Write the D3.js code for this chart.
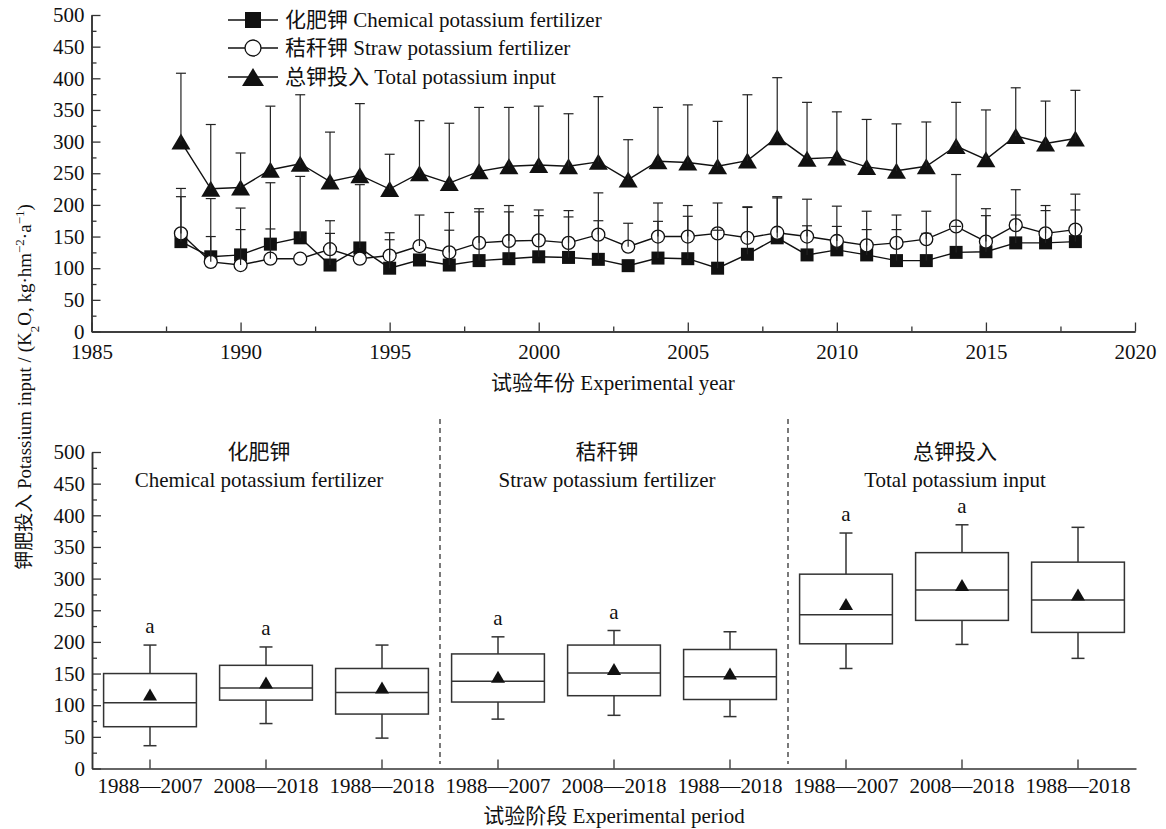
<!DOCTYPE html>
<html><head><meta charset="utf-8">
<script src="https://cdn.jsdelivr.net/npm/d3@7"></script>
<style>
body{margin:0;background:#fff;}
svg text{font-family:"Liberation Serif","Times New Roman","Noto Sans CJK SC",serif;fill:#111;}
</style></head>
<body><svg id="c" width="1166" height="829"></svg>
<script>
// ---------- DATA ----------
const years = [1988,1989,1990,1991,1992,1993,1994,1995,1996,1997,1998,1999,2000,2001,2002,2003,2004,2005,2006,2007,2008,2009,2010,2011,2012,2013,2014,2015,2016,2017,2018];
const chemMean  = [142,118,121,138,148,105,132,100,113,105,112,115,118,117,114,104,116,115,100,122,148,121,129,121,112,112,125,126,140,140,142];
const chemUpper = [226,210,195,235,245,175,232,156,113,160,189,189,183,181,175,104,174,182,160,196,211,167,166,161,161,155,166,183,184,191,192];
const strawMean  = [155,110,105,115,115,130,115,120,135,125,140,143,144,140,153,134,150,150,155,148,156,150,143,136,140,146,166,142,168,155,161];
const strawUpper = [213,150,161,162,115,155,115,145,184,188,194,199,192,191,219,171,203,199,203,197,213,209,198,190,184,190,248,194,224,199,217];
const totalMean  = [300,225.5,227.5,255.5,265,237,247,225,250,234.5,253,261,263,261,268,240,269,267,261,270,307,273,275,260,254,261,293,272,309,297,305];
const totalUpper = [408,327,282,356,374,315,360,280,333,329,354,354,356,344,371,303,354,358,332,374,401,362,347,335,328,331,362,350,385,364,381];

const legendLabels = ["化肥钾 Chemical potassium fertilizer","秸秆钾 Straw potassium fertilizer","总钾投入 Total potassium input"];
const topXTicks = [1985,1990,1995,2000,2005,2010,2015,2020];
const yTicks = [0,50,100,150,200,250,300,350,400,450,500];

const groupCN = ["化肥钾","秸秆钾","总钾投入"];
const groupEN = ["Chemical potassium fertilizer","Straw potassium fertilizer","Total potassium input"];
const periods = ["1988—2007","2008—2018","1988—2018"];
const boxLowWhisker  = [36,71,48, 78,84,82, 158,196,174];
const boxQ1          = [66,108,86, 105,115,109, 197,234,215];
const boxMedian      = [104,127,120, 138,151,145, 243,282,266];
const boxQ3          = [150,163,158, 181,195,188, 307,341,326];
const boxHighWhisker = [195,192,195, 208,218,216, 372,385,381];
const boxMean        = [117,136,128, 145,157,150, 260,290,275];
const sigLetters     = ["a","a","", "a","a","", "a","a",""];

// ---------- SETUP ----------
const svg = d3.select("#c");
const FS = 21;
const axisColor = "#333";
const triPath = (w,h)=>`M0,${-h/2}L${w/2},${h/2}L${-w/2},${h/2}Z`;

// ===== TOP PLOT =====
const xT = d3.scaleLinear().domain([1985,2020]).range([91.5,1135]);
const yT = d3.scaleLinear().domain([0,500]).range([331.5,15]);
const gTop = svg.append("g");

function styleAxis(g){
  g.selectAll("path.domain").attr("stroke",axisColor).attr("stroke-width",1.5);
  g.selectAll(".tick line").attr("stroke",axisColor).attr("stroke-width",1.3);
  g.selectAll("text").attr("font-size",FS).style("font-family",'"Liberation Serif","Times New Roman",serif').attr("fill","#111");
}
const gxm = gTop.append("g").attr("transform",`translate(0,331.5)`)
  .call(d3.axisBottom(xT).tickValues(d3.range(1987.5,2020,5)).tickSize(-5).tickFormat("").tickSizeOuter(0));
styleAxis(gxm);
const gym = gTop.append("g").attr("transform",`translate(91.5,0)`)
  .call(d3.axisLeft(yT).tickValues(d3.range(25,500,50)).tickSize(-5).tickFormat("").tickSizeOuter(0));
styleAxis(gym);
const gx = gTop.append("g").attr("transform",`translate(0,331.5)`)
  .call(d3.axisBottom(xT).tickValues(topXTicks).tickSize(-9).tickPadding(13).tickFormat(d3.format("d")).tickSizeOuter(0));
styleAxis(gx);
const gy = gTop.append("g").attr("transform",`translate(91.5,0)`)
  .call(d3.axisLeft(yT).tickValues(yTicks).tickSize(-9).tickPadding(7).tickSizeOuter(0));
styleAxis(gy);

const line = d3.line().x((d,i)=>xT(years[i])).y(d=>yT(d));
[chemMean,strawMean,totalMean].forEach(arr=>{
  gTop.append("path").attr("d",line(arr)).attr("fill","none").attr("stroke","#111").attr("stroke-width",1.4);
});
gTop.selectAll(".sq").data(chemMean).join("rect").attr("class","sq")
  .attr("x",(d,i)=>xT(years[i])-6.5).attr("y",d=>yT(d)-6.5).attr("width",13).attr("height",13).attr("fill","#111");
gTop.selectAll(".tri").data(totalMean).join("path").attr("class","tri")
  .attr("transform",(d,i)=>`translate(${xT(years[i])},${yT(d)})`).attr("d",triPath(19,16)).attr("fill","#111");
gTop.selectAll(".ci").data(strawMean).join("circle").attr("class","ci")
  .attr("cx",(d,i)=>xT(years[i])).attr("cy",d=>yT(d)).attr("r",6.5).attr("fill","#fff").attr("stroke","#111").attr("stroke-width",1.3);
function errBars(means, uppers){
  means.forEach((m,i)=>{
    const u = uppers[i]; if(u<=m) return;
    const x = xT(years[i]);
    gTop.append("line").attr("x1",x).attr("x2",x).attr("y1",yT(m)).attr("y2",yT(u)).attr("stroke","#222").attr("stroke-width",1.2);
    gTop.append("line").attr("x1",x-5).attr("x2",x+5).attr("y1",yT(u)).attr("y2",yT(u)).attr("stroke","#222").attr("stroke-width",1.2);
  });
}
errBars(chemMean,chemUpper); errBars(strawMean,strawUpper); errBars(totalMean,totalUpper);

const legRows = [20,48,77];
legendLabels.forEach((lab,i)=>{
  const g = gTop.append("g").attr("transform",`translate(0,${legRows[i]})`);
  g.append("line").attr("x1",228).attr("x2",278).attr("stroke","#111").attr("stroke-width",1.4);
  if(i===0) g.append("rect").attr("x",253-8).attr("y",-8).attr("width",16).attr("height",16).attr("fill","#111");
  if(i===1) g.append("circle").attr("cx",253).attr("r",8).attr("fill","#fff").attr("stroke","#111").attr("stroke-width",1.3);
  if(i===2) g.append("path").attr("transform","translate(253,0)").attr("d",triPath(22,18)).attr("fill","#111");
  g.append("text").attr("x",285).attr("dy","0.35em").attr("font-size",FS).text(lab);
});
gTop.append("text").attr("x",613).attr("y",390).attr("text-anchor","middle").attr("font-size",FS).text("试验年份 Experimental year");

// ===== BOTTOM PLOT =====
const ids = d3.range(9);
const xB = d3.scaleBand().domain(ids).range([92,1136]).padding(0);
const yB = d3.scaleLinear().domain([0,500]).range([768.5,452]);
const gBot = svg.append("g");
const gbym = gBot.append("g").attr("transform",`translate(92,0)`)
  .call(d3.axisLeft(yB).tickValues(d3.range(25,500,50)).tickSize(-5).tickFormat("").tickSizeOuter(0));
styleAxis(gbym);
const gby = gBot.append("g").attr("transform",`translate(92,0)`)
  .call(d3.axisLeft(yB).tickValues(yTicks).tickSize(-9).tickPadding(7).tickSizeOuter(0));
styleAxis(gby);
const gbx = gBot.append("g").attr("transform",`translate(0,768.5)`)
  .call(d3.axisBottom(xB).tickSize(-9).tickPadding(10).tickFormat(i=>periods[i%3]).tickSizeOuter(0));
styleAxis(gbx);

[3,6].forEach(k=>{
  const x = xB(k);
  gBot.append("line").attr("x1",x).attr("x2",x).attr("y1",419).attr("y2",764)
    .attr("stroke","#222").attr("stroke-width",1.2).attr("stroke-dasharray","5,4");
});
groupCN.forEach((t,g)=>{
  const cx = xB(g*3+1)+xB.bandwidth()/2 - 7;
  gBot.append("text").attr("x",cx).attr("y",459).attr("text-anchor","middle").attr("font-size",FS).text(t);
  gBot.append("text").attr("x",cx).attr("y",487).attr("text-anchor","middle").attr("font-size",FS).text(groupEN[g]);
});
const bw = xB.bandwidth()*0.8, cap = 13;
ids.forEach(i=>{
  const cx = xB(i)+xB.bandwidth()/2;
  const g = gBot.append("g");
  const ln = (x1,x2,y1,y2)=>g.append("line").attr("x1",x1).attr("x2",x2).attr("y1",y1).attr("y2",y2).attr("stroke","#333").attr("stroke-width",1.5);
  ln(cx,cx,yB(boxQ3[i]),yB(boxHighWhisker[i]));
  ln(cx,cx,yB(boxQ1[i]),yB(boxLowWhisker[i]));
  ln(cx-cap/2,cx+cap/2,yB(boxHighWhisker[i]),yB(boxHighWhisker[i]));
  ln(cx-cap/2,cx+cap/2,yB(boxLowWhisker[i]),yB(boxLowWhisker[i]));
  g.append("rect").attr("x",cx-bw/2).attr("y",yB(boxQ3[i])).attr("width",bw).attr("height",yB(boxQ1[i])-yB(boxQ3[i]))
    .attr("fill","#fff").attr("stroke","#333").attr("stroke-width",1.5);
  ln(cx-bw/2,cx+bw/2,yB(boxMedian[i]),yB(boxMedian[i]));
  g.append("path").attr("transform",`translate(${cx},${yB(boxMean[i])})`).attr("d",triPath(14,12)).attr("fill","#111");
  if(sigLetters[i]) g.append("text").attr("x",cx).attr("y",yB(boxHighWhisker[i])-12).attr("text-anchor","middle").attr("font-size",FS).text(sigLetters[i]);
});
gBot.append("text").attr("x",614).attr("y",823).attr("text-anchor","middle").attr("font-size",FS).text("试验阶段 Experimental period");

const yl = svg.append("text").attr("transform","translate(24,387) rotate(-90)").attr("text-anchor","middle").attr("dy","0.35em").attr("font-size",19);
yl.append("tspan").text("钾肥投入 Potassium input / (K");
yl.append("tspan").attr("baseline-shift","sub").attr("font-size",13).text("2");
yl.append("tspan").text("O, kg·hm");
yl.append("tspan").attr("baseline-shift","super").attr("font-size",13).text("−2");
yl.append("tspan").text("·a");
yl.append("tspan").attr("baseline-shift","super").attr("font-size",13).text("−1");
yl.append("tspan").text(")");
</script></body></html>
